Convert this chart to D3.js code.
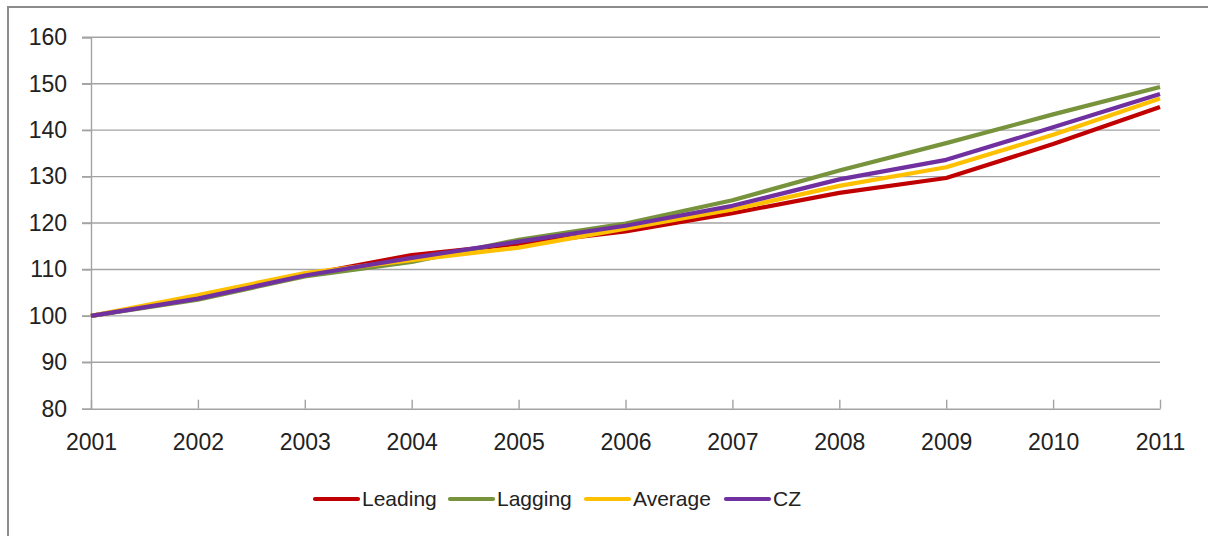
<!DOCTYPE html>
<html>
<head>
<meta charset="utf-8">
<script src="https://cdn.jsdelivr.net/npm/d3@7"></script>
<style>
  html, body { margin: 0; padding: 0; background: #fff; }
  svg { display: block; }
  text { font-family: "Liberation Sans", Arial, sans-serif; fill: #222; }
</style>
</head>
<body>
<svg id="chart" width="1208" height="536"></svg>
<script>
const years = [2001, 2002, 2003, 2004, 2005, 2006, 2007, 2008, 2009, 2010, 2011];
const leading = [100, 103.8, 108.8, 113.1, 115.5, 118.2, 122.1, 126.5, 129.7, 137.0, 145.0];
const lagging = [100, 103.5, 108.5, 111.6, 116.4, 119.9, 124.9, 131.3, 137.2, 143.4, 149.3];
const average = [100, 104.5, 109.2, 112.0, 114.7, 118.8, 122.9, 128.0, 132.0, 139.0, 146.8];
const cz      = [100, 103.7, 108.7, 112.5, 116.0, 119.4, 123.7, 129.4, 133.6, 140.6, 147.8];
const seriesNames = ["Leading", "Lagging", "Average", "CZ"];
const seriesColors = ["#C00000", "#77933C", "#FFC000", "#7030A0"];
const yTicks = [80, 90, 100, 110, 120, 130, 140, 150, 160];

const seriesValues = [leading, lagging, average, cz];
const svg = d3.select("#chart");

// outer chart border (only left/top visible)
svg.append("rect")
  .attr("x", 8).attr("y", 7).attr("width", 1240).attr("height", 560)
  .attr("fill", "none").attr("stroke", "#8c8c8c").attr("stroke-width", 2);

const x = d3.scaleLinear().domain([2001, 2011]).range([91, 1160]);
const y = d3.scaleLinear().domain([80, 160]).range([408.7, 37.3]);

// horizontal gridlines
svg.append("g").selectAll("line").data(yTicks.filter(d => d !== 80)).join("line")
  .attr("x1", 82).attr("x2", 1160)
  .attr("y1", d => y(d)).attr("y2", d => y(d))
  .attr("stroke", "#a3a3a3").attr("stroke-width", 1.4);

// y axis
const yAxis = svg.append("g").attr("transform", "translate(91,0)")
  .call(d3.axisLeft(y).tickValues(yTicks).tickSize(9).tickPadding(15).tickFormat(d3.format("d")));
yAxis.select(".domain").attr("stroke", "#a3a3a3").attr("stroke-width", 1.4);
yAxis.selectAll(".tick line").attr("stroke", "#a3a3a3").attr("stroke-width", 1.4);
yAxis.selectAll(".tick text").attr("font-size", 23).attr("fill", "#222")
  .attr("font-family", '"Liberation Sans", Arial, sans-serif');

// x axis (ticks pointing up inside)
const xAxis = svg.append("g").attr("transform", `translate(0,${y(80)})`)
  .call(d3.axisBottom(x).tickValues(years).tickSizeInner(-9).tickSizeOuter(0).tickPadding(25).tickFormat(d3.format("d")));
xAxis.select(".domain").attr("stroke", "#a3a3a3").attr("stroke-width", 1.4);
xAxis.selectAll(".tick line").attr("stroke", "#a3a3a3").attr("stroke-width", 1.4);
xAxis.selectAll(".tick text").attr("font-size", 23).attr("fill", "#222")
  .attr("font-family", '"Liberation Sans", Arial, sans-serif');

// lines
const line = d3.line().x((d, i) => x(years[i])).y(d => y(d));
svg.append("g").selectAll("path").data(seriesValues).join("path")
  .attr("d", d => line(d))
  .attr("fill", "none")
  .attr("stroke", (d, i) => seriesColors[i])
  .attr("stroke-width", 4.2)
  .attr("stroke-linejoin", "round");

// legend
const legendX = [315, 450, 586, 726];
const lg = svg.append("g").selectAll("g").data(seriesNames).join("g")
  .attr("transform", (d, i) => `translate(${legendX[i]},499)`);
lg.append("line")
  .attr("x1", 0).attr("x2", 43).attr("y1", 0).attr("y2", 0)
  .attr("stroke", (d, i) => seriesColors[i]).attr("stroke-width", 4.2)
  .attr("stroke-linecap", "round");
lg.append("text")
  .attr("x", 47).attr("y", 0).attr("dy", "0.35em")
  .attr("font-size", 21)
  .text(d => d);
</script>
</body>
</html>
